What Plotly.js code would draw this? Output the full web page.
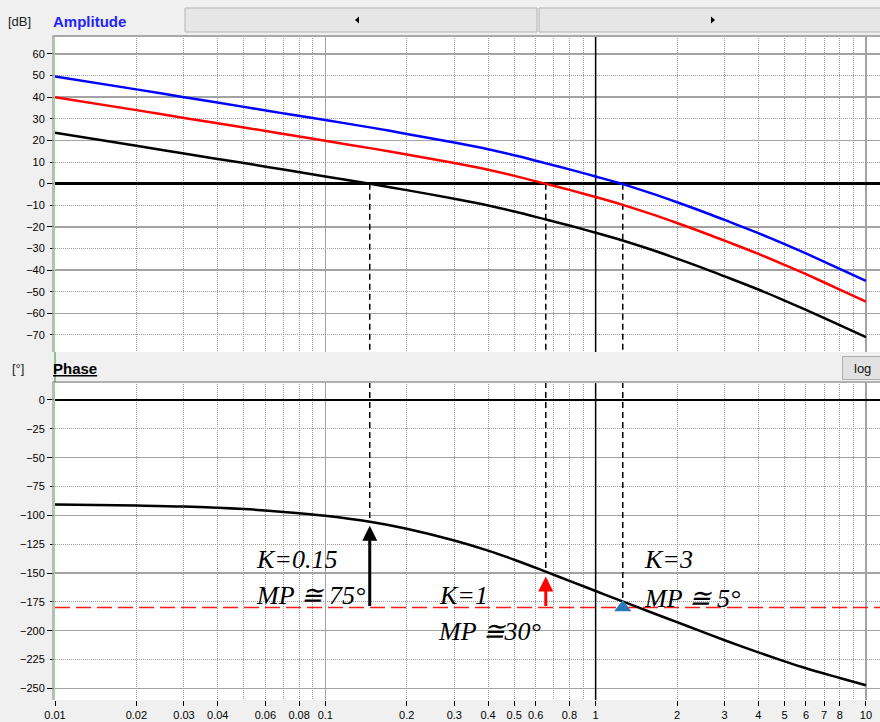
<!DOCTYPE html>
<html>
<head>
<meta charset="utf-8">
<script src="https://cdn.plot.ly/plotly-3.0.1.min.js"></script>
<style>
  html, body { margin: 0; padding: 0; background: #f0f0f0; }
  #chart { width: 880px; height: 722px; }
</style>
</head>
<body>
<div id="chart"></div>
<script>
// Angular frequency grid (rad/s) shared by the amplitude and phase curves
const freq = [0.01, 0.02, 0.03, 0.05, 0.07, 0.1, 0.15, 0.2, 0.3, 0.4, 0.5, 0.65, 0.8, 1, 1.25, 1.6, 2, 2.5, 3, 4, 5, 6, 8, 10];

// Amplitude |G(jw)| in dB for the three loop gains
const ampK015 = [23.5, 17.5, 13.9, 9.5, 6.5, 3.3, -0.3, -3.0, -7.0, -10.1, -12.9, -16.5, -19.4, -22.7, -26.2, -30.5, -34.7, -39.1, -42.9, -49.0, -54.1, -58.4, -65.5, -71.0];
const ampK1   = [40.0, 34.0, 30.4, 26.0, 23.0, 19.8, 16.2, 13.5, 9.5, 6.4, 3.6, 0.0, -2.9, -6.2, -9.7, -14.0, -18.2, -22.6, -26.4, -32.5, -37.6, -41.9, -49.0, -54.6];
const ampK3   = [49.6, 43.6, 40.0, 35.5, 32.5, 29.4, 25.8, 23.0, 19.0, 15.9, 13.1, 9.5, 6.6, 3.3, -0.1, -4.4, -8.6, -13.0, -16.8, -22.9, -28.0, -32.3, -39.4, -45.0];

// Phase in degrees (independent of the gain)
const phase = [-90.5, -91.5, -92.4, -94.6, -97.0, -100.4, -106.0, -111.6, -121.8, -130.6, -138.5, -148.6, -156.8, -165.6, -174.4, -184.0, -192.6, -201.3, -208.3, -218.8, -226.6, -232.6, -241.0, -247.3];

// Gain crossover frequencies, phase there, and the resulting phase margins
const gainLabels   = ['K=0.15', 'K=1', 'K=3'];
const crossFreq    = [0.146, 0.654, 1.26];
const crossPhase   = [-105.5, -149.5, -175.0];
const marginLabels = ['MP \u2245 75\u00b0', 'MP \u224530\u00b0', 'MP \u2245 5\u00b0'];
const phaseLimit = -180;

// Axis ticks and grid
const freqTicks = [0.01, 0.02, 0.03, 0.04, 0.06, 0.08, 0.1, 0.2, 0.3, 0.4, 0.5, 0.6, 0.8, 1, 2, 3, 4, 5, 6, 7, 8, 10];
const freqTickText = ['0.01', '0.02', '0.03', '0.04', '0.06', '0.08', '0.1', '0.2', '0.3', '0.4', '0.5', '0.6', '0.8', '1', '2', '3', '4', '5', '6', '7', '8', '10'];
const freqDecades = [0.01, 0.1, 1, 10];
const freqMinor = [0.02, 0.03, 0.04, 0.05, 0.06, 0.07, 0.08, 0.09,
                   0.2, 0.3, 0.4, 0.5, 0.6, 0.7, 0.8, 0.9,
                   2, 3, 4, 5, 6, 7, 8, 9];
const dbTicks = [60, 50, 40, 30, 20, 10, 0, -10, -20, -30, -40, -50, -60, -70];
const dbMajor = [60, 40, 20, 0, -20, -40, -60];
const dbMinor = [50, 30, 10, -10, -30, -50, -70];
const degTicks = [0, -25, -50, -75, -100, -125, -150, -175, -200, -225, -250];
const degMajor = [0, -50, -100, -150, -200, -250];
const degMinor = [-25, -75, -125, -175, -225];

// ---- layout helpers (pixel -> paper fraction) ----
const W = 880, H = 722;
const px = x => x / W;
const py = y => 1 - y / H;

const xRange = [-2, 1.052];          // log10 units
const dbRange = [-77.9, 68.3];
const degRange = [-260.1, 15.6];
const fMax = Math.pow(10, xRange[1]);

const tickFont = { family: 'Liberation Sans, Arial, sans-serif', size: 11, color: '#000' };
const gridSolid = '#a3a3a3';
const gridDot = '#9a9a9a';
const dotDash = '1px,1px';

function gridAxis(extra) {
  return Object.assign({
    showticklabels: false,
    showgrid: true, gridcolor: gridSolid, gridwidth: 1.5,
    zeroline: false, showline: false, fixedrange: true
  }, extra);
}
const minorFreqGrid = { tickmode: 'array', tickvals: freqMinor, ticks: '', showgrid: true,
                        gridcolor: gridDot, griddash: dotDash, gridwidth: 1 };

const layout = {
  width: W, height: H,
  margin: { l: 0, r: 0, t: 0, b: 0 },
  paper_bgcolor: '#f0f0f0',
  plot_bgcolor: '#ffffff',
  showlegend: false,
  xaxis: gridAxis({
    type: 'log', domain: [px(55), 1], range: xRange, anchor: 'y',
    tickmode: 'array', tickvals: freqDecades, ticks: '', minor: minorFreqGrid
  }),
  xaxis2: gridAxis({
    type: 'log', domain: [px(55), 1], range: xRange, anchor: 'y2',
    tickmode: 'array', tickvals: freqDecades, ticks: '', minor: minorFreqGrid
  }),
  xaxis3: {
    type: 'log', overlaying: 'x2', anchor: 'y2', range: xRange,
    tickmode: 'array', tickvals: freqTicks, ticktext: freqTickText,
    ticks: 'outside', ticklen: 5, tickwidth: 1, tickcolor: '#000',
    tickfont: tickFont, showgrid: false, zeroline: false, showline: false, fixedrange: true
  },
  yaxis: gridAxis({
    domain: [py(352), py(36)], range: dbRange, anchor: 'x',
    tickmode: 'array', tickvals: dbMajor,
    ticks: 'outside', ticklen: 7, tickwidth: 1, tickcolor: '#000',
    minor: { tickmode: 'array', tickvals: dbMinor, ticks: 'outside', ticklen: 4, tickcolor: '#000',
             showgrid: true, gridcolor: gridDot, griddash: dotDash, gridwidth: 1 },
    zeroline: true, zerolinecolor: '#000', zerolinewidth: 2.5,
    showline: true, linecolor: '#8fe08f', linewidth: 1.5
  }),
  yaxis3: {
    overlaying: 'y', anchor: 'x', range: dbRange,
    tickmode: 'array', tickvals: dbTicks,
    ticks: 'outside', ticklen: 7, tickcolor: 'rgba(0,0,0,0)',
    tickfont: tickFont, showgrid: false, zeroline: false, showline: false, fixedrange: true
  },
  yaxis2: gridAxis({
    domain: [py(700), py(382)], range: degRange, anchor: 'x2',
    tickmode: 'array', tickvals: degMajor,
    ticks: 'outside', ticklen: 7, tickwidth: 1, tickcolor: '#000',
    minor: { tickmode: 'array', tickvals: degMinor, ticks: 'outside', ticklen: 4, tickcolor: '#000',
             showgrid: true, gridcolor: gridDot, griddash: dotDash, gridwidth: 1 },
    zeroline: true, zerolinecolor: '#000', zerolinewidth: 1.5,
    showline: true, linecolor: '#8fe08f', linewidth: 1.5
  }),
  yaxis4: {
    overlaying: 'y2', anchor: 'x2', range: degRange,
    tickmode: 'array', tickvals: degTicks,
    ticks: 'outside', ticklen: 7, tickcolor: 'rgba(0,0,0,0)',
    tickfont: tickFont, showgrid: false, zeroline: false, showline: false, fixedrange: true
  },
  shapes: [],
  annotations: []
};

// ---- window chrome: scroll buttons, panel frames, "log" button ----
const chromeLine = { color: '#b5b5b5', width: 1 };
layout.shapes.push(
  { type: 'rect', xref: 'paper', yref: 'paper', x0: px(185), x1: px(537), y0: py(32), y1: py(8),
    fillcolor: '#e6e6e6', line: chromeLine },
  { type: 'rect', xref: 'paper', yref: 'paper', x0: px(539), x1: px(881), y0: py(32), y1: py(8),
    fillcolor: '#e6e6e6', line: chromeLine },
  { type: 'path', xref: 'paper', yref: 'paper', fillcolor: '#000', line: { width: 0 },
    path: `M ${px(355)},${py(20)} L ${px(359)},${py(16.5)} L ${px(359)},${py(23.5)} Z` },
  { type: 'path', xref: 'paper', yref: 'paper', fillcolor: '#000', line: { width: 0 },
    path: `M ${px(715)},${py(20)} L ${px(711)},${py(16.5)} L ${px(711)},${py(23.5)} Z` },
  // panel frames
  { type: 'line', xref: 'paper', yref: 'paper', x0: px(52.5), x1: 1, y0: py(36), y1: py(36), line: { color: '#a8a8a8', width: 2 } },
  { type: 'line', xref: 'paper', yref: 'paper', x0: px(53), x1: px(53), y0: py(36), y1: py(352), line: { color: '#a8a8a8', width: 1.5 } },
  { type: 'line', xref: 'paper', yref: 'paper', x0: px(52.5), x1: 1, y0: py(382), y1: py(382), line: { color: '#b0b0b0', width: 2 } },
  { type: 'line', xref: 'paper', yref: 'paper', x0: px(53), x1: px(53), y0: py(382), y1: py(700), line: { color: '#a8a8a8', width: 1.5 } },
  { type: 'line', xref: 'paper', yref: 'paper', x0: px(55), x1: px(55), y0: py(352), y1: py(382), line: { color: '#2f8f2f', width: 1 } },
  // "log" button
  { type: 'rect', xref: 'paper', yref: 'paper', x0: px(842.5), x1: px(881), y0: py(379.5), y1: py(356.5),
    fillcolor: '#e1e1e1', line: { color: '#adadad', width: 1 } }
);

const uiFont = 'Liberation Sans, Arial, sans-serif';
function label(text, x, y, opts) {
  return Object.assign({
    text: text, xref: 'paper', yref: 'paper', x: px(x), y: py(y),
    xanchor: 'left', yanchor: 'middle', showarrow: false,
    font: { family: uiFont, size: 13, color: '#222' }
  }, opts || {});
}
layout.annotations.push(
  label('[dB]', 6, 21),
  label('<b>Amplitude</b>', 51, 21, { font: { family: uiFont, size: 15, color: '#2222ff' } }),
  label('[\u00b0]', 10, 368),
  label('<b><u>Phase</u></b>', 51, 368, { font: { family: uiFont, size: 15, color: '#000' } }),
  label('log', 862, 368, { xanchor: 'center', font: { family: uiFont, size: 13, color: '#111' } })
);

// ---- gain / phase-margin captions ----
const capFont = { family: 'Liberation Serif, Times New Roman, serif', size: 26, color: '#000' };
const capPos = [
  { k: [254, 559], mp: [254, 595.5] },
  { k: [437, 595.5], mp: [436, 631.5] },
  { k: [642, 559.5], mp: [642, 598] }
];
gainLabels.forEach((g, i) => {
  layout.annotations.push(label('<i>' + g + '</i>', capPos[i].k[0], capPos[i].k[1], { font: capFont }));
  layout.annotations.push(label('<i>' + marginLabels[i] + '</i>', capPos[i].mp[0], capPos[i].mp[1], { font: capFont }));
});

// ---- phase-margin arrows (annotation x positions are log10 on a log axis) ----
const arrowColors = ['#000000', '#ff0000'];
arrowColors.forEach((c, i) => {
  layout.annotations.push({
    xref: 'x2', yref: 'y2', axref: 'x2', ayref: 'y2',
    x: Math.log10(crossFreq[i]), y: crossPhase[i],
    ax: Math.log10(crossFreq[i]), ay: phaseLimit,
    text: '', showarrow: true, arrowhead: 2, arrowsize: 1, arrowwidth: 3,
    arrowcolor: c, standoff: 4
  });
});

// ---- traces ----
const data = [];
const curve = (y, color, xa, ya) => ({
  type: 'scatter', mode: 'lines', x: freq, y: y, xaxis: xa, yaxis: ya,
  line: { color: color, width: 2.5, shape: 'spline', smoothing: 1 }, hoverinfo: 'skip'
});
const vline = (xv, y0, y1, xa, ya, dash, width) => ({
  type: 'scatter', mode: 'lines', x: [xv, xv], y: [y0, y1], xaxis: xa, yaxis: ya,
  line: { color: '#000', width: width, dash: dash }, hoverinfo: 'skip'
});

// amplitude panel
data.push(vline(1, dbRange[0], dbRange[1], 'x', 'y', 'solid', 1.5));
crossFreq.forEach(f => data.push(vline(f, 0, dbRange[0], 'x', 'y', '6px,4px', 1.5)));
data.push(curve(ampK015, '#000000', 'x', 'y'));
data.push(curve(ampK1, '#ff0000', 'x', 'y'));
data.push(curve(ampK3, '#0000ff', 'x', 'y'));

// phase panel
data.push(vline(1, degRange[0], degRange[1], 'x2', 'y2', 'solid', 1.5));
crossFreq.forEach((f, i) => data.push(vline(f, degRange[1], crossPhase[i], 'x2', 'y2', '6px,4px', 1.5)));
data.push({
  type: 'scatter', mode: 'lines', x: [freq[0], fMax], y: [phaseLimit, phaseLimit], xaxis: 'x2', yaxis: 'y2',
  line: { color: '#ff1a1a', width: 1.5, dash: '15px,6px' }, hoverinfo: 'skip'
});
data.push(curve(phase, '#000000', 'x2', 'y2'));
data.push({
  type: 'scatter', mode: 'markers', x: [crossFreq[2]], y: [phaseLimit], xaxis: 'x2', yaxis: 'y2',
  marker: { symbol: 'triangle-up', size: 15, color: '#2a7ab9' }, hoverinfo: 'skip'
});

// label-only overlay axes
data.push({ type: 'scatter', x: [], y: [], xaxis: 'x', yaxis: 'y3', hoverinfo: 'skip' });
data.push({ type: 'scatter', x: [], y: [], xaxis: 'x3', yaxis: 'y2', hoverinfo: 'skip' });
data.push({ type: 'scatter', x: [], y: [], xaxis: 'x2', yaxis: 'y4', hoverinfo: 'skip' });

Plotly.newPlot('chart', data, layout, { displayModeBar: false, staticPlot: true });
</script>
</body>
</html>
